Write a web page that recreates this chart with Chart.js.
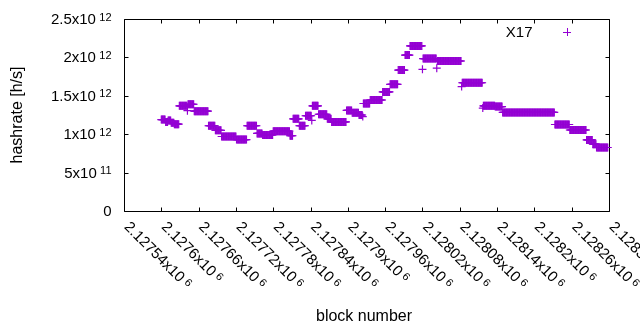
<!DOCTYPE html>
<html>
<head>
<meta charset="utf-8">
<script src="https://cdn.jsdelivr.net/npm/chart.js@4.4.0/dist/chart.umd.min.js"></script>
<style>
  html, body { margin: 0; padding: 0; background: #fff; }
  canvas { display: block; }
</style>
</head>
<body>
<canvas id="myChart" width="640" height="330"></canvas>
<script>
// runs of blocks that share one hashrate estimate (values in 10^12 h/s)
const runFrom = [2127600, 2127607, 2127611, 2127616, 2127621, 2127629, 2127642, 2127643, 2127653, 2127676,
  2127687, 2127697, 2127721, 2127738, 2127754, 2127763, 2127780, 2127807, 2127812, 2127822,
  2127832, 2127842, 2127843, 2127853, 2127867, 2127874, 2127898, 2127907, 2127918, 2127924,
  2127925, 2127936, 2127956, 2127968, 2127981, 2127992, 2128000, 2128020, 2128021, 2128043,
  2128044, 2128083, 2128084, 2128117, 2128118, 2128137, 2128149, 2128233, 2128257, 2128284,
  2128294, 2128300];
const runTo = [2127606, 2127610, 2127615, 2127620, 2127628, 2127641, 2127642, 2127652, 2127675, 2127686,
  2127696, 2127720, 2127737, 2127753, 2127762, 2127779, 2127806, 2127811, 2127821, 2127831,
  2127841, 2127842, 2127852, 2127866, 2127873, 2127897, 2127906, 2127917, 2127923, 2127924,
  2127935, 2127955, 2127967, 2127980, 2127991, 2127999, 2128019, 2128020, 2128042, 2128043,
  2128082, 2128083, 2128116, 2128117, 2128136, 2128148, 2128232, 2128256, 2128283, 2128293,
  2128299, 2128318];
const runHash = [1.19, 1.16, 1.18, 1.15, 1.13, 1.37, 1.306, 1.39, 1.30, 1.11,
  1.05, 0.97, 0.93, 1.11, 1.01, 0.99, 1.04, 0.98, 1.20, 1.11,
  1.24, 1.18, 1.37, 1.26, 1.20, 1.16, 1.31, 1.28, 1.25, 1.23,
  1.40, 1.445, 1.55, 1.65, 1.835, 2.03, 2.15, 1.845, 1.985, 1.86,
  1.953, 1.62, 1.67, 1.34, 1.37, 1.36, 1.283, 1.126, 1.055, 0.925,
  0.87, 0.827];

const xTicks = [2127540, 2127600, 2127660, 2127720, 2127780, 2127840, 2127900,
  2127960, 2128020, 2128080, 2128140, 2128200, 2128260, 2128320];
const yTicks = [0, 5e11, 1e12, 1.5e12, 2e12, 2.5e12];
const yTickBase = ["0", "5x10", "1x10", "1.5x10", "2x10", "2.5x10"];
const yTickExp = ["", "11", "12", "12", "12", "12"];
const seriesName = "X17";

const purple = "rgb(148,0,211)";
const family = "'Liberation Sans', Arial, sans-serif";
const mainFont = "15px " + family;
const titleFont = "16px " + family;
const supFont = "11px " + family;

// one point per block
const points = [];
for (let i = 0; i < runFrom.length; i++) {
  for (let b = runFrom[i]; b <= runTo[i]; b++) {
    points.push({ x: b, y: runHash[i] * 1e12 });
  }
}

// draws a label like "1x10" with a raised exponent after it
function drawPower(ctx, base, exp, x, y) {
  ctx.font = mainFont;
  ctx.fillText(base, x, y);
  if (!exp) return;
  const w = ctx.measureText(base).width;
  ctx.font = supFont;
  ctx.fillText(exp, x + w + 3.3, y - 3.4);
}

const gnuplotFrame = {
  id: "gnuplotFrame",
  beforeDatasetsDraw(chart) {
    const { ctx, chartArea: a, scales } = chart;
    ctx.save();
    ctx.strokeStyle = "#000";
    ctx.lineWidth = 1;
    ctx.beginPath();
    ctx.rect(a.left + 0.5, a.top + 0.5, a.right - a.left, a.bottom - a.top);
    xTicks.forEach((v) => {
      const px = Math.round(scales.x.getPixelForValue(v)) + 0.5;
      ctx.moveTo(px, a.bottom + 0.5);
      ctx.lineTo(px, a.bottom - 3.5);
      ctx.moveTo(px, a.top + 0.5);
      ctx.lineTo(px, a.top + 4.5);
    });
    yTicks.forEach((v) => {
      const py = Math.round(scales.y.getPixelForValue(v)) + 0.5;
      ctx.moveTo(a.left + 0.5, py);
      ctx.lineTo(a.left + 4.5, py);
      ctx.moveTo(a.right + 0.5, py);
      ctx.lineTo(a.right - 3.5, py);
    });
    ctx.stroke();
    ctx.restore();
  },
  afterDraw(chart) {
    const { ctx, chartArea: a, scales } = chart;
    ctx.save();
    ctx.fillStyle = "#000";
    ctx.textBaseline = "alphabetic";

    // y tick labels, right aligned
    yTicks.forEach((v, i) => {
      const py = scales.y.getPixelForValue(v);
      ctx.font = mainFont;
      const bw = ctx.measureText(yTickBase[i]).width;
      ctx.font = supFont;
      const ew = yTickExp[i] ? ctx.measureText(yTickExp[i]).width + 3.3 : 0;
      ctx.textAlign = "left";
      drawPower(ctx, yTickBase[i], yTickExp[i], 111.5 - bw - ew, py + 5);
    });

    // x tick labels, turned 45 degrees downwards
    xTicks.forEach((v) => {
      const px = scales.x.getPixelForValue(v);
      const base = (v / 1e6).toFixed(5).replace(/0+$/, "") + "x10";
      ctx.save();
      ctx.translate(px + 3, a.bottom + 13);
      ctx.rotate(Math.PI / 4);
      ctx.textAlign = "left";
      drawPower(ctx, base, "6", 0, 5);
      ctx.restore();
    });

    // axis titles
    ctx.font = titleFont;
    ctx.textAlign = "center";
    ctx.fillText("block number", 364, 321);
    ctx.save();
    ctx.translate(21.5, 115);
    ctx.rotate(-Math.PI / 2);
    ctx.fillText("hashrate [h/s]", 0, 0);
    ctx.restore();

    // key
    ctx.font = mainFont;
    ctx.textAlign = "right";
    ctx.fillText(seriesName, 532.5, 37);
    ctx.strokeStyle = purple;
    ctx.lineWidth = 1;
    ctx.beginPath();
    ctx.moveTo(563, 32.5);
    ctx.lineTo(571, 32.5);
    ctx.moveTo(567.5, 28);
    ctx.lineTo(567.5, 36);
    ctx.stroke();
    ctx.restore();
  }
};

new Chart(document.getElementById("myChart"), {
  type: "scatter",
  data: {
    datasets: [{
      label: seriesName,
      data: points,
      pointStyle: "cross",
      pointRadius: 4,
      pointHoverRadius: 4,
      borderWidth: 1.2,
      borderColor: purple,
      backgroundColor: purple,
      clip: false
    }]
  },
  options: {
    responsive: false,
    animation: false,
    devicePixelRatio: 1,
    layout: { padding: { left: 124, right: 31, top: 19, bottom: 119 } },
    scales: {
      x: { type: "linear", display: false, min: xTicks[0], max: xTicks[xTicks.length - 1] },
      y: { display: false, min: yTicks[0], max: yTicks[yTicks.length - 1] }
    },
    plugins: { legend: { display: false }, tooltip: { enabled: false } },
    events: []
  },
  plugins: [gnuplotFrame]
});
</script>
</body>
</html>
